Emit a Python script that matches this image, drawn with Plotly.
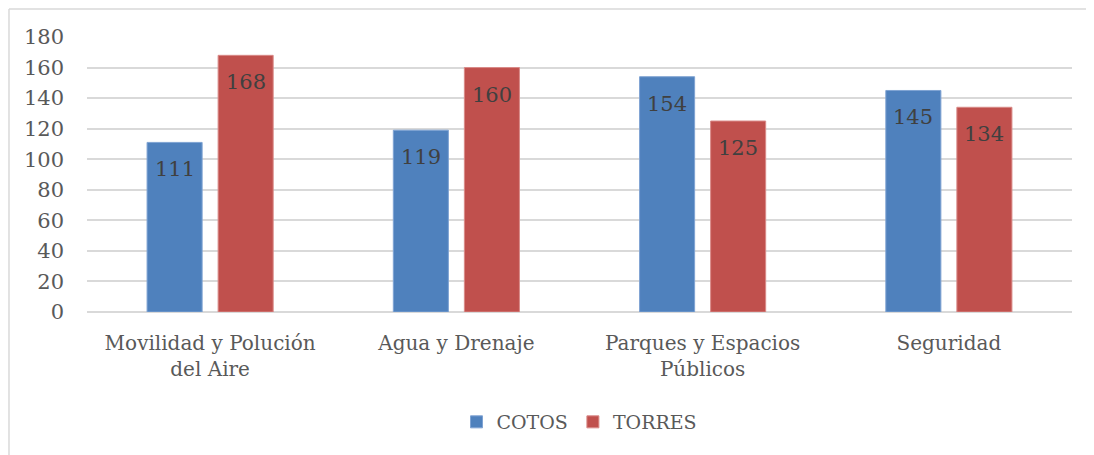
import plotly.graph_objects as go

# Data
categories = ["Movilidad y Polución<br>del Aire", "Agua y Drenaje",
              "Parques y Espacios<br>Públicos", "Seguridad"]
cotos = [111, 119, 154, 145]
torres = [168, 160, 125, 134]
y_ticks = [0, 20, 40, 60, 80, 100, 120, 140, 160, 180]

FONT = "DejaVu Serif"

fig = go.Figure()

fig.add_trace(go.Bar(
    x=categories, y=cotos, name="COTOS",
    marker=dict(color="#4F81BD", line=dict(color="#7FA3D3", width=1)),
))
fig.add_trace(go.Bar(
    x=categories, y=torres, name="TORRES",
    marker=dict(color="#C0504D", line=dict(color="#D98A88", width=1)),
))

# value labels sitting inside the top of each bar
for series, shift in [(cotos, -35.5), (torres, 35.5)]:
    for cat, val in zip(categories, series):
        fig.add_annotation(x=cat, y=val, text=str(val), showarrow=False,
                           xshift=shift, yshift=-27, yanchor="middle",
                           font=dict(family=FONT, size=21, color="#404040"))

# light outer frame of the chart area (only top and left edges are visible),
# kept inside the figure so the page does not overflow
frame = dict(color="#D9D9D9", width=1.5)
frame_shapes = [
    dict(type="line", xref="paper", yref="paper", x0=-0.0792, x1=1.028,
         y0=1.1018, y1=1.1018, line=frame, layer="below"),
    dict(type="line", xref="paper", yref="paper", x0=-0.0792, x1=-0.0792,
         y0=-0.545, y1=1.1018, line=frame, layer="below"),
]

fig.update_layout(
    width=1094, height=455,
    margin=dict(l=79, r=30, t=29, b=151),
    paper_bgcolor="white", plot_bgcolor="white",
    barmode="group", bargap=0.423, bargroupgap=0.225,
    font=dict(family=FONT, size=20, color="#595959"),
    showlegend=True,
    legend=dict(orientation="h", x=0.5, xanchor="center", y=-0.4, yanchor="middle",
                font=dict(family=FONT, size=19, color="#595959"),
                itemwidth=30, traceorder="normal"),
    xaxis=dict(showgrid=False, showline=False, ticks="", tickfont=dict(size=20),
               ticklabelstandoff=17),
    yaxis=dict(range=[0, 180], tickvals=y_ticks, showgrid=True, gridcolor="#D9D9D9",
               gridwidth=1.5, zeroline=True, zerolinecolor="#D9D9D9", zerolinewidth=1.5,
               showline=False, ticks="", tickfont=dict(size=21), ticklabelstandoff=22),
    shapes=frame_shapes,
)

fig.write_html("out.html")
